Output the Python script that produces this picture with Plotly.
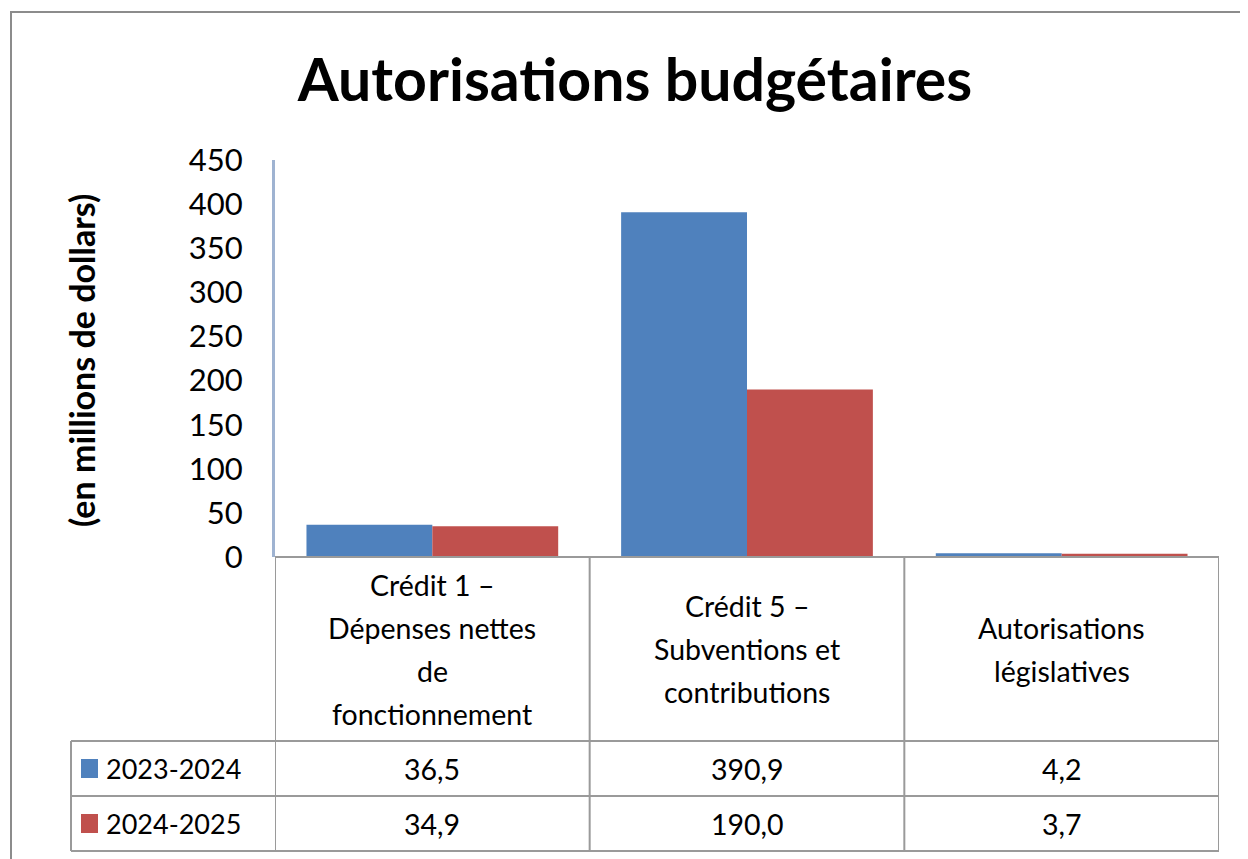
import plotly.graph_objects as go

# ---- data ----
categories = ["Crédit 1 –\nDépenses nettes\nde\nfonctionnement",
              "Crédit 5 –\nSubventions et\ncontributions",
              "Autorisations\nlégislatives"]
series_names = ["2023-2024", "2024-2025"]
values_2023 = [36.5, 390.9, 4.2]
values_2024 = [34.9, 190.0, 3.7]
series_colors = ["#4F81BD", "#C0504D"]
y_ticks = [0, 50, 100, 150, 200, 250, 300, 350, 400, 450]
title_text = "Autorisations budgétaires"
y_title = "(en millions de dollars)"

W, H = 1248, 859
OFF = 8  # default body margin of the html page
FONT = "Lato"
GRID = "#9a9a9a"

def px(xp):
    return (xp - OFF) / W

def py(yp):
    return 1 - (yp - OFF) / H

# layout geometry (pixels in the screenshot)
plot_l, plot_r = 275, 1219
plot_top, plot_bot = 160, 557
row1_top, row2_top, table_bot = 741, 796, 851
left_col = 71

cat_ids = list(range(len(categories)))
series = [values_2023, values_2024]

fig = go.Figure()
for name, vals, col in zip(series_names, series, series_colors):
    fig.add_trace(go.Bar(x=cat_ids, y=vals, name=name, marker=dict(color=col, line=dict(width=0)),
                         showlegend=False))

fig.update_layout(
    width=W, height=H,
    margin=dict(l=0, r=0, t=0, b=0, autoexpand=False),
    showlegend=False,
    paper_bgcolor="white", plot_bgcolor="white",
    barmode="group", bargap=0.2, bargroupgap=0,
    font=dict(family=FONT, color="black", size=28),
    title=dict(text="<b>%s</b>" % title_text, x=px(635), y=py(80), xanchor="center", yanchor="middle",
               font=dict(family=FONT, size=59, color="black")),
    xaxis=dict(domain=[px(plot_l), px(plot_r)], range=[-0.5, len(categories) - 0.5], automargin=False,
               showticklabels=False, showgrid=False, zeroline=False, showline=False, ticks=""),
    yaxis=dict(domain=[py(plot_bot), py(plot_top)], range=[0, 450], tickvals=y_ticks, automargin=False,
               ticktext=[str(t) for t in y_ticks], showgrid=False, zeroline=False,
               showline=True, linecolor="#9FB3D1", linewidth=3, ticks="",
               ticklabelstandoff=23, tickfont=dict(size=31, family=FONT, color="black")),
)

shapes = []
line = dict(color=GRID, width=2)
# horizontal table lines
shapes.append(dict(type="line", xref="paper", yref="paper", x0=px(plot_l), x1=px(plot_r),
                   y0=py(plot_bot), y1=py(plot_bot), line=line))
for yy in [row1_top, row2_top, table_bot]:
    shapes.append(dict(type="line", xref="paper", yref="paper", x0=px(left_col), x1=px(plot_r),
                       y0=py(yy), y1=py(yy), line=line))
# vertical category boundaries
for b in [i - 0.5 for i in range(len(categories) + 1)]:
    shapes.append(dict(type="line", xref="x", yref="paper", x0=b, x1=b,
                       y0=py(plot_bot), y1=py(table_bot), line=line))
shapes.append(dict(type="line", xref="paper", yref="paper", x0=px(left_col), x1=px(left_col),
                   y0=py(row1_top), y1=py(table_bot), line=line))
# outer frame
shapes.append(dict(type="rect", xref="paper", yref="paper", x0=px(11), x1=1.05, y0=-0.05, y1=py(12),
                   line=dict(color="#8c8c8c", width=2), fillcolor="rgba(0,0,0,0)", layer="below"))

annotations = []
# category labels
cat_center = (plot_bot + row1_top) / 2
lh = 43
for i, cat in enumerate(categories):
    lines = cat.split("\n")
    n = len(lines)
    for j, ln in enumerate(lines):
        yy = cat_center + (j - (n - 1) / 2) * lh
        annotations.append(dict(text=ln, x=i, xref="x", y=py(yy), yref="paper", showarrow=False,
                                xanchor="center", yanchor="middle", font=dict(size=28.5, family=FONT)))
# data rows
row_tops = [row1_top, row2_top]
row_bots = [row2_top, table_bot]
for r, (name, vals, col) in enumerate(zip(series_names, series, series_colors)):
    yc = (row_tops[r] + row_bots[r]) / 2
    shapes.append(dict(type="rect", xref="paper", yref="paper", x0=px(81), x1=px(98),
                       y0=py(yc + 9.5), y1=py(yc - 9.5), fillcolor=col, line=dict(width=0)))
    annotations.append(dict(text=name, x=px(104), xref="paper", y=py(yc), yref="paper", showarrow=False,
                            xanchor="left", yanchor="middle", font=dict(size=27, family=FONT)))
    for i, v in enumerate(vals):
        annotations.append(dict(text=f"{v:.1f}".replace(".", ","), x=i, xref="x", y=py(yc), yref="paper",
                                showarrow=False, xanchor="center", yanchor="middle",
                                font=dict(size=28.5, family=FONT)))
# y axis title
annotations.append(dict(text="<b>%s</b>" % y_title, x=px(81), xref="paper", y=py(361), yref="paper",
                        showarrow=False, textangle=-90, xanchor="center", yanchor="middle",
                        font=dict(size=34, family=FONT)))

fig.update_layout(shapes=shapes, annotations=annotations)
fig.write_html("out.html")
